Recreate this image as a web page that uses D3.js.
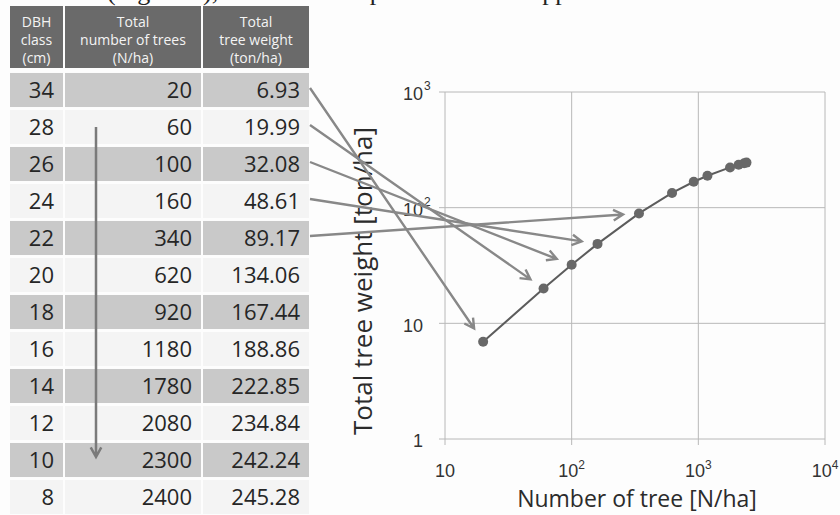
<!DOCTYPE html>
<html>
<head>
<meta charset="utf-8">
<script src="https://cdn.jsdelivr.net/npm/d3@7"></script>
<style>
  html, body { margin: 0; padding: 0; background: #ffffff; }
  svg { display: block; }
</style>
</head>
<body>
<div id="chart"></div>
<script>
// table data
const dbhClass = [34, 28, 26, 24, 22, 20, 18, 16, 14, 12, 10, 8];
const treeCount = [20, 60, 100, 160, 340, 620, 920, 1180, 1780, 2080, 2300, 2400];
const treeWeight = [6.93, 19.99, 32.08, 48.61, 89.17, 134.06, 167.44, 188.86, 222.85, 234.84, 242.24, 245.28];
const headerLines = [
    ['DBH', 'class', '(cm)'],
    ['Total', 'number of trees', '(N/ha)'],
    ['Total', 'tree weight', '(ton/ha)']
];
// rows that get an arrow to the chart
const linkedRows = [0, 1, 2, 3, 4];

// chart axes
const xTicks = [10, 100, 1000, 10000];
const yTicks = [1, 10, 100, 1000];
const xTitle = 'Number of tree [N/ha]';
const yTitle = 'Total tree weight [ton/ha]';
const topLine = '(Figure 1), the data were plotted and the approximate line was drawn';

const width = 840;
const height = 515;

const svg = d3.select('#chart')
    .append('svg')
    .attr('width', width)
    .attr('height', height);

svg.append('rect')
    .attr('width', width)
    .attr('height', height)
    .attr('fill', '#fdfdfd');

// cut off text line from the page above (only its lower edge shows)
svg.append('text')
    .attr('x', 107)
    .attr('y', 0)
    .attr('font-family', 'Liberation Serif')
    .attr('font-size', 26)
    .attr('fill', '#222')
    .text(topLine);

// ---------- table ----------
const colX = [10, 65, 203];
const colW = [53, 136, 106];
const cols = [dbhClass, treeCount, treeWeight.map(d => d.toFixed(2))];

const row = d3.scaleBand()
    .domain(d3.range(dbhClass.length))
    .range([71.5, 71.5 + 37 * dbhClass.length])
    .paddingInner(0.08)
    .paddingOuter(0.04);
const rowMid = i => row(i) + row.bandwidth() / 2;

const table = svg.append('g');

// header
table.selectAll('rect.head')
    .data(colX)
    .enter()
    .append('rect')
    .attr('class', 'head')
    .attr('x', d => d)
    .attr('y', 6)
    .attr('width', (d, i) => colW[i])
    .attr('height', 62)
    .attr('fill', '#6a6a6a');

headerLines.forEach((lines, c) => {
    table.append('text')
        .attr('text-anchor', 'middle')
        .attr('font-family', 'Open Sans')
        .attr('font-size', 14)
        .attr('fill', '#f4f4f4')
        .selectAll('tspan')
        .data(lines)
        .enter()
        .append('tspan')
        .attr('x', colX[c] + colW[c] / 2)
        .attr('y', (d, i) => 27 + i * 18)
        .text(d => d);
});

// body cells
dbhClass.forEach((d, r) => {
    cols.forEach((vals, c) => {
        table.append('rect')
            .attr('x', colX[c])
            .attr('y', row(r))
            .attr('width', colW[c])
            .attr('height', row.bandwidth())
            .attr('fill', r % 2 === 0 ? '#c9c9c9' : '#f4f4f4');
        table.append('text')
            .attr('x', colX[c] + colW[c] - 9)
            .attr('y', rowMid(r))
            .attr('dy', '0.36em')
            .attr('text-anchor', 'end')
            .attr('font-family', 'Open Sans')
            .attr('font-size', 22)
            .attr('fill', '#262626')
            .text(vals[r]);
    });
});

// chevron arrow path
function arrowPath(x1, y1, x2, y2) {
    const a = Math.atan2(y2 - y1, x2 - x1);
    const len = 11, w = 0.5;
    const ax = x2 - len * Math.cos(a - w), ay = y2 - len * Math.sin(a - w);
    const bx = x2 - len * Math.cos(a + w), by = y2 - len * Math.sin(a + w);
    return `M${x1},${y1}L${x2},${y2}M${ax},${ay}L${x2},${y2}L${bx},${by}`;
}

// downward arrow inside the table
table.append('path')
    .attr('d', arrowPath(96, rowMid(1), 96, rowMid(10) - 3))
    .attr('fill', 'none')
    .attr('stroke', '#7a7a7a')
    .attr('stroke-width', 2.5);

// ---------- chart ----------
const x = d3.scaleLog().domain([10, 10000]).range([445, 825]);
const y = d3.scaleLog().domain([1, 1000]).range([439, 92]);

const grid = svg.append('g')
    .attr('stroke', '#b8b8b8')
    .attr('stroke-width', 1);

grid.selectAll('line.v')
    .data(xTicks)
    .enter()
    .append('line')
    .attr('x1', d => x(d))
    .attr('x2', d => x(d))
    .attr('y1', y(1000))
    .attr('y2', y(1) + 6);

grid.selectAll('line.h')
    .data(yTicks)
    .enter()
    .append('line')
    .attr('x1', x(10) - 6)
    .attr('x2', x(10000))
    .attr('y1', d => y(d))
    .attr('y2', d => y(d));

const expOf = d => Math.round(Math.log10(d));

// y tick labels
const yLab = svg.append('g')
    .attr('font-family', 'Liberation Sans')
    .attr('fill', '#333');
yTicks.forEach(t => {
    const e = expOf(t);
    yLab.append('text')
        .attr('x', 423)
        .attr('y', y(t) + 2)
        .attr('dy', '0.35em')
        .attr('text-anchor', 'end')
        .attr('font-size', 18)
        .text(e === 0 ? '1' : '10');
    if (e >= 2) {
        yLab.append('text')
            .attr('x', 424)
            .attr('y', y(t) - 2)
            .attr('font-size', 12)
            .text(e);
    }
});

// x tick labels
const xLab = svg.append('g')
    .attr('font-family', 'Liberation Sans')
    .attr('fill', '#333');
xTicks.forEach(t => {
    const e = expOf(t);
    const txt = xLab.append('text')
        .attr('x', x(t))
        .attr('y', 477)
        .attr('text-anchor', 'middle')
        .attr('font-size', 18);
    txt.append('tspan').text('10');
    if (e >= 2) {
        txt.append('tspan')
            .attr('font-size', 12)
            .attr('dy', -8)
            .text(e);
    }
});

// axis titles
svg.append('text')
    .attr('x', 637)
    .attr('y', 507)
    .attr('text-anchor', 'middle')
    .attr('font-family', 'Open Sans')
    .attr('font-size', 23)
    .attr('fill', '#2b2b2b')
    .text(xTitle);

svg.append('text')
    .attr('transform', 'translate(372,281) rotate(-90)')
    .attr('text-anchor', 'middle')
    .attr('font-family', 'Open Sans')
    .attr('font-size', 26)
    .attr('fill', '#2b2b2b')
    .text(yTitle);

// series line and points
const points = treeCount.map((n, i) => ({ n: n, w: treeWeight[i] }));

svg.append('path')
    .datum(points)
    .attr('d', d3.line().x(d => x(d.n)).y(d => y(d.w)))
    .attr('fill', 'none')
    .attr('stroke', '#5c5c5c')
    .attr('stroke-width', 2);

svg.append('g')
    .selectAll('circle')
    .data(points)
    .enter()
    .append('circle')
    .attr('cx', d => x(d.n))
    .attr('cy', d => y(d.w))
    .attr('r', 5)
    .attr('fill', '#686868');

// arrows from table rows to chart points
const gap = 16;
svg.append('g')
    .selectAll('path')
    .data(linkedRows)
    .enter()
    .append('path')
    .attr('d', r => {
        const x1 = 310, y1 = rowMid(r) - 2;
        const px = x(treeCount[r]), py = y(treeWeight[r]);
        const dist = Math.hypot(px - x1, py - y1);
        const x2 = px - (px - x1) / dist * gap;
        const y2 = py - (py - y1) / dist * gap;
        return arrowPath(x1, y1, x2, y2);
    })
    .attr('fill', 'none')
    .attr('stroke', '#888')
    .attr('stroke-width', 2.4);
</script>
</body>
</html>
